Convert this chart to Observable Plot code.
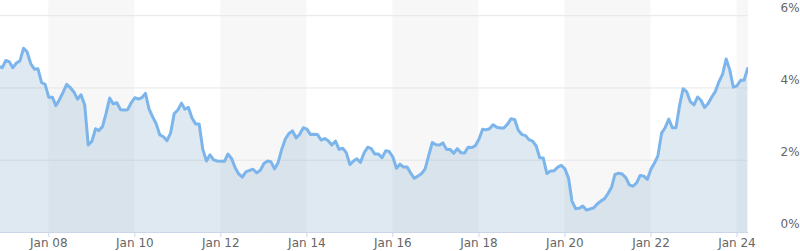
<!DOCTYPE html>
<html>
<head>
<meta charset="utf-8">
<script src="https://cdn.jsdelivr.net/npm/d3@7"></script>
<script src="https://cdn.jsdelivr.net/npm/@observablehq/plot@0.6"></script>
<style>
  html, body { margin: 0; padding: 0; background: #fff; }
  #chart svg { display: block; }
</style>
</head>
<body>
<div id="chart"></div>
<script>
// Monthly yield (%), first value = Nov 2006
const startYear = 2006;
const startMonth = 10; // 0-based (November)
const y2006 = [4.60, 4.56];
const y2007 = [4.76, 4.72, 4.56, 4.69, 4.75, 5.10, 5.00, 4.67, 4.52, 4.53, 4.15, 4.10];
const y2008 = [3.74, 3.74, 3.51, 3.68, 3.88, 4.10, 4.01, 3.89, 3.69, 3.81, 3.53, 2.42];
const y2009 = [2.52, 2.87, 2.82, 2.93, 3.29, 3.72, 3.56, 3.59, 3.40, 3.39, 3.40, 3.59];
const y2010 = [3.73, 3.69, 3.73, 3.85, 3.42, 3.20, 3.01, 2.70, 2.65, 2.54, 2.76, 3.29];
const y2011 = [3.39, 3.58, 3.41, 3.46, 3.17, 3.00, 3.00, 2.30, 1.98, 2.15, 2.01, 1.98];
const y2012 = [1.97, 1.97, 2.17, 2.05, 1.80, 1.62, 1.53, 1.68, 1.72, 1.75, 1.65, 1.72];
const y2013 = [1.91, 1.98, 1.96, 1.76, 1.93, 2.30, 2.58, 2.74, 2.81, 2.62, 2.72, 2.90];
const y2014 = [2.86, 2.71, 2.72, 2.71, 2.56, 2.60, 2.54, 2.42, 2.53, 2.30, 2.33, 2.21];
const y2015 = [1.88, 1.98, 2.04, 1.94, 2.20, 2.36, 2.32, 2.17, 2.17, 2.07, 2.26, 2.24];
const y2016 = [2.09, 1.78, 1.89, 1.81, 1.81, 1.64, 1.50, 1.56, 1.63, 1.76, 2.14, 2.49];
const y2017 = [2.43, 2.42, 2.48, 2.30, 2.30, 2.19, 2.32, 2.21, 2.20, 2.36, 2.35, 2.40];
const y2018 = [2.58, 2.86, 2.84, 2.87, 2.98, 2.91, 2.89, 2.89, 3.00, 3.15, 3.12, 2.83];
const y2019 = [2.71, 2.68, 2.57, 2.53, 2.40, 2.07, 2.06, 1.63, 1.70, 1.71, 1.81, 1.86];
const y2020 = [1.76, 1.50, 0.87, 0.66, 0.67, 0.73, 0.62, 0.65, 0.68, 0.79, 0.87, 0.93];
const y2021 = [1.08, 1.26, 1.61, 1.64, 1.62, 1.52, 1.32, 1.28, 1.37, 1.58, 1.56, 1.47];
const y2022 = [1.76, 1.93, 2.13, 2.75, 2.90, 3.14, 2.90, 2.90, 3.52, 3.98, 3.89, 3.62];
const y2023 = [3.53, 3.75, 3.66, 3.46, 3.57, 3.75, 3.90, 4.17, 4.38, 4.80, 4.50, 4.02];
const y2024 = [4.06, 4.21, 4.21, 4.54];

const yieldValues = [].concat(y2006, y2007, y2008, y2009, y2010, y2011, y2012, y2013,
  y2014, y2015, y2016, y2017, y2018, y2019, y2020, y2021, y2022, y2023, y2024);

// Axis ticks and shaded bands (years)
const tickYears = [2008, 2010, 2012, 2014, 2016, 2018, 2020, 2022, 2024];
const bandStarts = [2008, 2012, 2016, 2020, 2024];
const yTicks = [0, 2, 4, 6];

const data = yieldValues.map((v, i) => ({
  date: new Date(Date.UTC(startYear, startMonth + i, 1)),
  value: v
}));
const bands = bandStarts.map(y => ({start: new Date(Date.UTC(y, 0, 1)), end: new Date(Date.UTC(y + 2, 0, 1))}));

const chart = Plot.plot({
  width: 800,
  height: 251,
  marginLeft: 0,
  marginRight: 52,
  marginTop: 0,
  marginBottom: 19,
  style: {fontFamily: "DejaVu Sans, sans-serif", fontSize: "12px", background: "#fff"},
  x: {type: "utc", domain: [new Date(Date.UTC(2006, 10, 17)), new Date(Date.UTC(2024, 3, 8))]},
  y: {domain: [0, 6.42]},
  marks: [
    Plot.rect(bands, {x1: "start", x2: "end", fill: "#f7f7f7", clip: true}),
    Plot.gridY(yTicks.filter(d => d > 0), {stroke: "#e6e6e6", strokeOpacity: 1, strokeWidth: 1}),
    Plot.areaY(data, {x: "date", y: "value", fill: "rgb(148,182,208)", fillOpacity: 0.3, clip: true}),
    Plot.lineY(data, {x: "date", y: "value", stroke: "#7cb5ec", strokeWidth: 3, strokeLinejoin: "round", clip: true}),
    Plot.ruleY([0], {stroke: "#ccd6eb"}),
    Plot.axisX({
      ticks: tickYears.map(y => new Date(Date.UTC(y, 0, 1))),
      tickFormat: d3.utcFormat("Jan %y"),
      tickSize: 5,
      tickPadding: 1,
      stroke: "#ccd6eb",
      fill: "#666",
      label: null
    }),
    Plot.axisY({
      anchor: "right",
      ticks: yTicks,
      tickFormat: d => d + "%",
      tickSize: 0,
      tickPadding: 32,
      dy: -8,
      fill: "#666",
      label: null
    })
  ]
});
document.getElementById("chart").appendChild(chart);
</script>
</body>
</html>
